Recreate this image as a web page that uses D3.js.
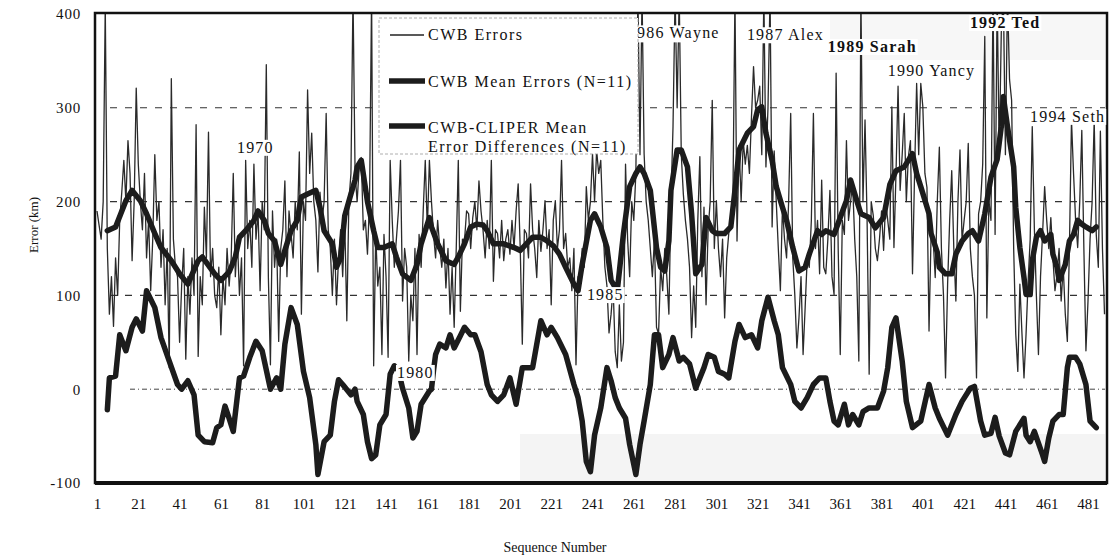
<!DOCTYPE html>
<html><head><meta charset="utf-8">
<script src="https://cdn.jsdelivr.net/npm/d3@7"></script>
<style>body{margin:0;background:#fff} svg{display:block}</style>
</head><body><svg id="c" width="1115" height="556"></svg>
<script>
// CWB errors, one value per sequence number (1..489)
const cwbErrors = [
190,175,160,200,410,150,80,120,67,140,
100,180,210,244,200,265,230,137,200,321,
240,200,170,230,140,180,105,160,250,180,
200,130,170,90,150,23,331,160,130,120,
50,110,150,32,120,80,140,100,282,35,
120,90,194,140,274,120,150,100,87,130,
58,120,90,150,110,140,230,120,160,100,
140,25,244,150,180,130,240,160,190,105,
200,170,346,120,26,190,130,160,51,150,
170,222,120,190,166,140,200,170,253,80,
200,180,319,230,273,200,180,125,210,180,
200,294,170,150,100,160,90,140,170,120,
180,73,200,230,420,230,200,237,247,170,
180,144,200,420,25,165,110,130,37,165,
120,34,244,180,130,160,190,244,94,150,
130,30,100,73,150,37,165,130,190,244,
170,244,200,165,140,180,151,130,160,108,
150,80,130,66,150,244,83,160,158,190,
187,150,183,200,170,222,190,169,140,180,
150,244,115,170,166,140,180,137,160,170,
144,180,150,190,219,150,48,170,166,140,
219,170,150,119,180,147,170,201,150,170,
90,180,201,150,170,244,150,166,130,140,
105,150,26,120,115,150,130,216,180,200,
251,200,255,230,244,180,130,110,60,80,
108,40,23,90,30,50,240,160,120,200,
180,230,420,250,420,251,200,180,150,120,
160,66,59,130,105,150,120,80,200,280,
420,300,420,250,208,180,160,130,55,110,
66,180,248,120,194,90,170,200,308,150,
201,150,120,160,76,140,166,180,200,420,
158,260,200,265,240,260,230,290,344,300,
308,323,250,420,237,300,420,173,254,200,
150,105,194,160,140,200,294,140,100,44,
76,120,37,87,140,130,180,294,150,180,
123,223,130,123,160,212,120,101,337,150,
37,180,165,265,180,200,219,160,120,30,
420,200,287,180,16,200,185,150,137,160,
190,148,200,180,160,301,151,230,323,212,
250,294,200,248,265,123,230,326,250,326,
301,230,215,62,165,160,119,200,258,150,
100,12,112,180,233,150,94,200,255,158,
180,200,262,150,120,100,12,187,200,240,
376,76,201,180,420,165,420,250,380,420,
250,420,330,308,150,59,19,112,60,12,
59,115,160,280,173,100,37,120,166,216,
180,150,183,140,105,122,150,94,130,80,
51,150,287,230,180,151,200,276,150,41,
94,160,200,287,165,130,275,150,80
];

// CWB mean errors (N=11), read at these sequence numbers
const meanSeq = [6,10,15,18,22,25,29,32,37,41,45,50,52,58,61,65,68,70,73,77,79,82,84,87,90,92,95,98,100,103,107,109,111,115,117,119,121,124,126,127,129,132,135,137,140,144,146,149,153,156,158,162,163,166,170,174,176,179,182,185,188,190,193,198,203,206,209,212,216,219,222,225,228,232,234,236,240,242,245,248,250,253,256,259,262,264,266,269,272,274,276,278,279,282,284,287,289,291,294,296,299,301,305,308,310,312,316,319,321,323,325,328,330,333,335,338,341,344,346,350,352,354,358,361,364,366,369,371,375,378,382,385,388,392,396,398,400,404,405,408,409,412,415,417,420,423,425,428,431,434,437,439,440,442,445,446,448,450,451,453,454,456,458,460,463,464,466,467,470,472,474,476,478,480,483,485];
const meanErr = [169,173,201,212,201,187,166,151,137,123,112,137,141,123,116,125,141,162,169,180,190,180,166,158,133,148,169,180,205,208,212,194,169,155,130,140,185,208,223,237,244,200,169,151,151,155,141,123,116,133,155,183,173,155,137,133,141,155,173,176,175,169,155,155,151,148,155,162,162,158,153,144,130,112,105,133,180,187,173,151,116,105,166,216,230,237,230,212,151,130,126,158,212,255,255,237,187,123,133,183,169,166,166,173,212,255,273,280,298,301,273,244,216,194,180,151,126,130,144,169,165,169,165,183,201,223,201,187,183,172,183,218,233,237,251,230,216,187,166,146,130,123,123,144,158,166,169,158,187,226,245,280,312,280,237,194,151,119,101,101,137,162,169,158,165,144,130,116,133,158,165,180,176,173,169,173];

// CWB-CLIPER mean error differences (N=11)
const diffSeq = [6,7,10,12,15,18,20,23,25,29,32,36,40,42,45,48,50,53,57,59,61,63,65,67,70,72,75,78,81,85,88,90,92,95,98,101,104,107,108,111,114,116,118,120,124,126,127,130,132,134,136,138,141,143,145,147,149,152,154,156,158,162,163,164,165,167,170,172,174,177,179,182,184,187,190,192,195,198,201,204,207,212,216,219,221,224,228,232,234,236,238,240,242,245,248,250,252,254,257,259,262,264,266,269,271,273,275,278,280,283,285,288,291,295,297,300,302,305,307,310,312,315,318,321,323,326,329,331,333,337,339,342,345,348,351,354,356,358,360,363,365,367,370,372,375,379,382,384,386,388,391,393,396,400,404,407,409,413,417,420,424,426,429,431,434,436,438,441,443,446,450,451,453,455,459,460,462,464,467,469,471,472,475,477,480,482,485];
const diffErr = [-22,12,14,58,41,66,75,62,105,87,55,30,5,0,9,-6,-49,-56,-57,-41,-38,-18,-31,-45,12,14,34,51,41,0,12,0,48,87,69,19,-9,-59,-91,-56,-49,-13,10,5,-6,0,-13,-27,-56,-74,-70,-38,-27,16,25,20,1,-20,-52,-45,-16,-2,0,20,37,48,44,58,44,57,66,58,58,40,5,-6,-13,-6,12,-16,23,23,73,58,66,55,37,5,-9,-34,-77,-88,-49,-20,23,9,-9,-20,-31,-59,-91,-59,-34,5,58,58,23,37,55,30,34,27,1,23,37,34,19,16,12,51,69,55,58,44,73,98,73,58,23,5,-13,-20,-9,5,12,12,-13,-34,-38,-16,-38,-27,-38,-24,-20,-20,-2,23,66,76,30,-13,-41,-34,5,-20,-31,-49,-27,-13,1,3,-34,-49,-47,-30,-50,-68,-70,-45,-31,-49,-56,-45,-70,-77,-52,-34,-27,-27,23,34,34,27,5,-34,-41];

const xTicks = [1,21,41,61,81,101,121,141,161,181,201,221,241,261,281,301,321,341,361,381,401,421,441,461,481];
const yTicks = [-100,0,100,200,300,400];
const gridLevels = [100,200,300];
const legendLabels = ["CWB Errors","CWB Mean Errors (N=11)","CWB-CLIPER Mean","Error Differences (N=11)"];
const stormLabels = ["1970","1980","1985","986 Wayne","1987 Alex","1989 Sarah","1990 Yancy","1992 Ted","1994 Seth"];
const stormSeq = [68.8,146.3,238.3,262.6,315.8,355,384,423.8,452.9];
const stormErr = [252,12,95,374,372,359.5,334,385,285];
const stormBold = [false,false,false,false,false,true,false,true,false];

const svg = d3.select("#c");
const L = 95, R = 1107, T = 13, B = 483;
const x = d3.scaleLinear().domain([1,481]).range([97,1088]);
const y = d3.scaleLinear().domain([-100,400]).range([483,14]);
const serif = "'Liberation Serif','Times New Roman',serif";

svg.append("defs").append("clipPath").attr("id","pc")
  .append("rect").attr("x",L).attr("y",T).attr("width",R-L).attr("height",B-T);

// faint scan shading
svg.append("rect").attr("x",520).attr("y",434).attr("width",585).attr("height",48).attr("fill","#f4f4f4");
svg.append("rect").attr("x",830).attr("y",15).attr("width",275).attr("height",45).attr("fill","#f7f7f7");

// grid
svg.selectAll("line.grid").data(gridLevels).enter().append("line")
  .attr("x1",110).attr("x2",R-2).attr("y1",d=>y(d)).attr("y2",d=>y(d))
  .attr("stroke","#333").attr("stroke-width",1.1).attr("stroke-dasharray","7,8");
svg.append("line").attr("x1",130).attr("x2",R-2).attr("y1",y(0)).attr("y2",y(0))
  .attr("stroke","#444").attr("stroke-width",1).attr("stroke-dasharray","5,3,1,3");

const g = svg.append("g").attr("clip-path","url(#pc)");
const thin = d3.line().x((d,i)=>x(i+1)).y(d=>y(d));
g.append("path").datum(cwbErrors).attr("d",thin).attr("fill","none")
  .attr("stroke","#2a2a2a").attr("stroke-width",1.3).attr("stroke-linejoin","round");

const thick = d3.line().x(d=>x(d[0])).y(d=>y(d[1])).curve(d3.curveLinear);
g.append("path").datum(meanSeq.map((s,i)=>[s,meanErr[i]])).attr("d",thick).attr("fill","none")
  .attr("stroke","#1c1c1c").attr("stroke-width",5.5).attr("stroke-linejoin","round").attr("stroke-linecap","round");
g.append("path").datum(diffSeq.map((s,i)=>[s,diffErr[i]])).attr("d",thick).attr("fill","none")
  .attr("stroke","#1c1c1c").attr("stroke-width",5.5).attr("stroke-linejoin","round").attr("stroke-linecap","round");

// frame
svg.append("rect").attr("x",L).attr("y",T).attr("width",R-L).attr("height",B-T)
  .attr("fill","none").attr("stroke","#111").attr("stroke-width",2.5);
svg.append("line").attr("x1",L).attr("x2",R).attr("y1",B).attr("y2",B).attr("stroke","#111").attr("stroke-width",4);

// storm labels with white backing
stormLabels.forEach((t,i)=>{
  const grp = svg.append("g");
  const tx = grp.append("text").attr("x",x(stormSeq[i])).attr("y",y(stormErr[i]))
    .attr("font-family",serif).attr("font-size",16).attr("letter-spacing",1.2)
    .attr("font-weight",stormBold[i]?"bold":"normal").attr("fill","#111").text(t);
  const bb = tx.node().getBBox();
  grp.insert("rect","text").attr("x",bb.x-1).attr("y",bb.y+1).attr("width",bb.width+2).attr("height",bb.height-1).attr("fill","#fff");
});

// axes
const xAxis = svg.append("g").attr("transform",`translate(0,${B})`)
  .call(d3.axisBottom(x).tickValues(xTicks).tickSize(0).tickPadding(15).tickFormat(d=>String(d)));
xAxis.select(".domain").remove();
xAxis.selectAll("text").attr("font-family",serif).attr("font-size",15).attr("fill","#111");

const yAxis = svg.append("g").attr("transform",`translate(${L},0)`)
  .call(d3.axisLeft(y).tickValues(yTicks).tickSize(0).tickPadding(14).tickFormat(d=>String(d)));
yAxis.select(".domain").remove();
yAxis.selectAll("text").attr("font-family",serif).attr("font-size",15).attr("letter-spacing",0.8).attr("fill","#111");

svg.append("text").attr("transform","translate(38,225) rotate(-90)").attr("text-anchor","middle")
  .attr("font-family",serif).attr("font-size",13).attr("fill","#111").text("Error (km)");
svg.append("text").attr("x",555).attr("y",552).attr("text-anchor","middle")
  .attr("font-family",serif).attr("font-size",14).attr("fill","#111").text("Sequence Number");

// legend
const lg = svg.append("g");
lg.append("rect").attr("x",379).attr("y",18).attr("width",259).attr("height",136)
  .attr("fill","#fff").attr("stroke","#999").attr("stroke-width",0.8).attr("stroke-dasharray","3,2");
lg.append("line").attr("x1",390).attr("x2",424).attr("y1",35).attr("y2",35).attr("stroke","#222").attr("stroke-width",1.3);
lg.append("line").attr("x1",389).attr("x2",425).attr("y1",81).attr("y2",81).attr("stroke","#1c1c1c").attr("stroke-width",5.5);
lg.append("line").attr("x1",389).attr("x2",425).attr("y1",126).attr("y2",126).attr("stroke","#1c1c1c").attr("stroke-width",5.5);
const ly = [40,87,133,152];
legendLabels.forEach((t,i)=>{
  lg.append("text").attr("x",428).attr("y",ly[i]).attr("font-family",serif).attr("font-size",16)
    .attr("letter-spacing",1.5).attr("fill","#111").text(t);
});
</script>
</body></html>
